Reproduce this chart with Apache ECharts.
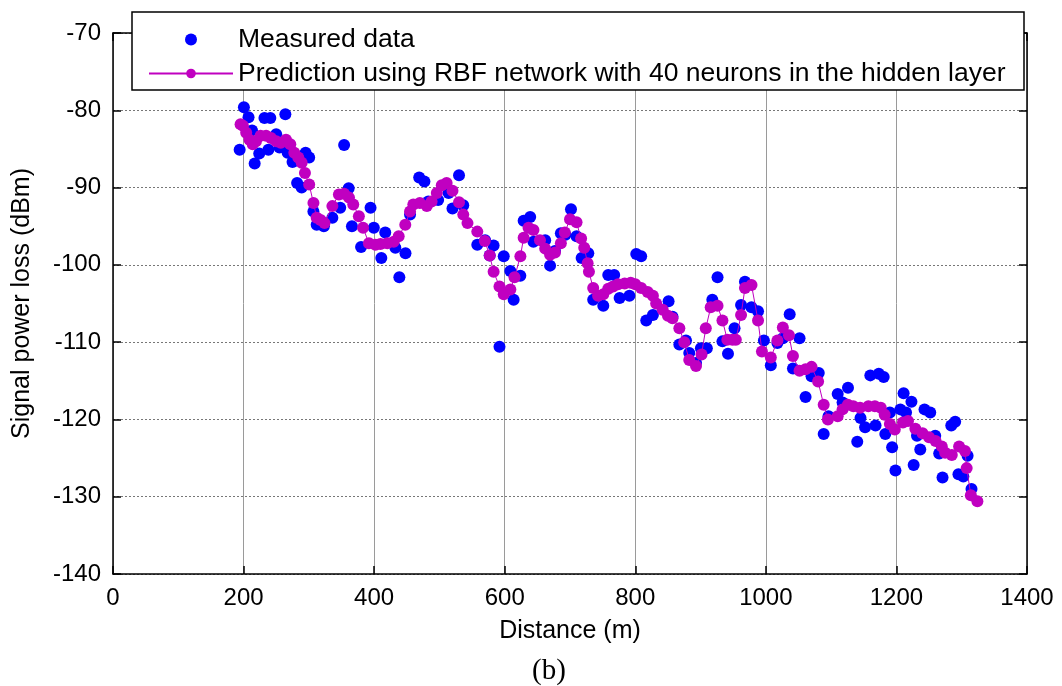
<!DOCTYPE html>
<html>
<head>
<meta charset="utf-8">
<script src="https://cdn.jsdelivr.net/npm/echarts@6/dist/echarts.min.js"></script>
<style>
  html, body { margin: 0; padding: 0; background: #fff; }
  #chart { width: 1062px; height: 686px; }
</style>
</head>
<body>
<div id="chart"></div>
<script>
// Measured received signal vs. distance (m, dBm)
const measuredX = [194, 200.5, 207.6, 213, 217, 224, 232, 238, 241, 250, 255, 264, 267.5, 275, 282, 289, 295, 300.5,
  307, 312, 323, 336, 348, 354, 361, 366, 380, 394.5, 399.5, 411, 417, 432.5, 438.6, 448, 455, 469, 477, 483, 498,
  514, 520, 530, 536.5, 558, 570, 577, 583, 592, 598.5, 608.6, 613.7, 623.9, 629, 639, 644, 662, 669.5, 677, 686,
  693, 701.5, 710, 717.8, 728, 735.5, 751, 758.6, 767.7, 776, 791, 801.5, 809, 816.8, 827, 851, 857, 867.5, 877.7,
  882.7, 893, 900.5, 909.6, 918, 926, 933.5, 942, 952, 962, 968, 978, 988, 997, 1007.6, 1017.7, 1026, 1036.5,
  1041.5, 1051.6, 1060.8, 1070, 1081, 1088.6, 1096, 1110, 1117.5, 1125.8, 1140, 1145, 1152, 1160, 1168, 1173,
  1180.5, 1183, 1190, 1193.4, 1198.5, 1206, 1211, 1214.7, 1223, 1226.4, 1231.5, 1236.5, 1243, 1251.8, 1259.4,
  1265.5, 1270.6, 1284, 1290, 1295, 1302.5, 1309, 1315];
const measuredY = [-85.1, -79.6, -80.9, -82.6, -86.9, -85.6, -81.0, -85.1, -81.0, -83.1, -84.8, -80.5, -85.5, -86.7,
  -89.4, -90.0, -85.5, -86.1, -93.1, -94.8, -95.0, -93.9, -92.6, -84.5, -90.1, -95.0, -97.7, -92.6, -95.2, -99.1,
  -95.8, -97.8, -101.6, -98.5, -93.5, -88.7, -89.2, -91.8, -91.6, -90.7, -92.7, -88.4, -92.3, -97.4, -96.8, -98.8,
  -97.5, -110.6, -98.9, -100.8, -104.5, -101.4, -94.3, -93.8, -97.0, -96.8, -100.1, -98.2, -95.9, -96.1, -92.8,
  -96.3, -99.1, -98.5, -104.5, -105.3, -101.3, -101.3, -104.3, -104.0, -98.6, -98.9, -107.2, -106.5, -104.7, -106.7,
  -110.3, -109.8, -111.4, -112.7, -110.8, -110.8, -104.5, -101.6, -109.9, -111.5, -108.2, -105.2, -102.2, -105.5,
  -106.0, -109.8, -113.0, -110.1, -109.5, -106.4, -113.4, -109.5, -117.1, -114.4, -114.0, -121.9, -119.6, -116.7,
  -117.8, -115.9, -122.9, -119.8, -121.0, -114.3, -120.8, -114.1, -114.5, -121.9, -119.1, -123.6, -126.6, -118.7,
  -116.6, -119.1, -117.7, -125.9, -122.1, -123.9, -118.7, -119.1, -122.1, -124.4, -127.5, -120.8, -120.3, -127.1,
  -127.4, -124.7, -129.0];

// RBF network prediction (40 hidden neurons)
const predX = [195.4, 199, 204, 209, 214, 219, 226, 234.5, 242, 250, 257, 265, 271.6, 277.7, 283.8, 289, 294, 300.5,
  307, 312, 318, 324, 336, 346, 354, 361.5, 368, 376.6, 383, 392, 402, 409.6, 420, 430, 437.6, 447.7, 455, 460, 470,
  480.7, 488, 496, 503.6, 511, 520, 530, 536.5, 543, 558, 569.5, 577, 583, 592, 598.5, 608.6, 615, 624, 629, 636.5,
  644, 654, 662, 669.5, 677, 686, 692, 700, 710, 717, 721.8, 727, 729, 735.5, 743, 751, 758.6, 766, 773.6, 783.8,
  793, 800, 809, 819, 827, 832, 842, 850, 857, 867.5, 875, 882.7, 893, 901.5, 908, 915.5, 926, 933.5, 941, 948.7,
  954, 962, 968, 978, 988, 994, 1007.6, 1017.7, 1026, 1035.4, 1041.5, 1051.6, 1060.8, 1070, 1080, 1088.6, 1095,
  1110, 1117.5, 1125.6, 1134, 1144.3, 1157, 1167, 1176, 1182, 1190, 1197.5, 1210, 1217.7, 1229, 1240, 1250, 1260,
  1269.5, 1274.6, 1284.8, 1296, 1305, 1307.6, 1314, 1324];
const predY = [-81.8, -82.0, -82.9, -83.8, -84.4, -84.0, -83.3, -83.3, -83.6, -84.0, -84.2, -83.8, -84.4, -85.5,
  -86.1, -86.8, -88.1, -89.6, -92.0, -93.9, -94.2, -94.6, -92.4, -90.9, -90.8, -91.3, -92.2, -93.7, -95.2, -97.2,
  -97.4, -97.3, -97.2, -97.0, -96.3, -94.8, -93.1, -92.2, -92.0, -92.4, -91.8, -90.7, -89.7, -89.4, -90.4, -91.9,
  -93.5, -94.6, -95.7, -96.9, -98.8, -100.9, -102.8, -103.8, -103.2, -101.6, -98.9, -96.5, -95.2, -95.5, -96.8,
  -97.9, -98.7, -98.4, -97.2, -95.8, -94.1, -94.5, -96.6, -97.8, -99.8, -100.9, -103.0, -104.0, -103.8, -103.1,
  -102.8, -102.5, -102.4, -102.3, -102.5, -103.0, -103.5, -104.0, -105.0, -105.8, -106.6, -106.9, -108.2, -110.0,
  -112.3, -113.1, -111.6, -108.2, -105.5, -105.3, -107.2, -109.7, -109.7, -109.7, -106.5, -103.0, -102.6, -107.2,
  -111.2, -112.0, -109.8, -108.1, -109.1, -111.8, -113.7, -113.5, -113.2, -115.1, -118.1, -120.0, -119.6, -118.7,
  -118.1, -118.3, -118.5, -118.3, -118.3, -118.5, -119.4, -120.6, -121.3, -120.4, -120.2, -121.2, -121.8, -122.3,
  -122.8, -123.5, -124.3, -124.6, -123.5, -124.1, -126.3, -129.8, -130.6];

const xTicks = { min: 0, max: 1400, step: 200 };
const yTicks = { min: -140, max: -70, step: 10 };

const measuredName = 'Measured data';
const predName = 'Prediction using RBF network with 40 neurons in the hidden layer';

const pairs = (xs, ys) => xs.map((x, i) => [x, ys[i]]);

const FONT = '"Liberation Sans", Arial, sans-serif';
const AXIS_BLACK = '#000';
const plainNumber = (v) => String(v);

const frameAxis = (extra) => Object.assign({
  axisLine: { show: true, onZero: false, lineStyle: { color: AXIS_BLACK, width: 1.5 } },
  axisTick: { show: true, inside: true, length: 8, lineStyle: { color: AXIS_BLACK, width: 1.5 } },
  axisLabel: { show: false },
  splitLine: { show: false }
}, extra);

const chart = echarts.init(document.getElementById('chart'), null, { renderer: 'canvas' });

chart.setOption({
  animation: false,
  backgroundColor: '#fff',
  grid: { left: 113, right: 35, top: 33, bottom: 112, containLabel: false, outerBoundsMode: 'none' },
  xAxis: [
    {
      type: 'value', min: xTicks.min, max: xTicks.max, interval: xTicks.step,
      name: 'Distance (m)', nameLocation: 'middle', nameGap: 45,
      nameTextStyle: { fontFamily: FONT, fontSize: 25, color: '#000' },
      axisLine: { show: true, onZero: false, lineStyle: { color: AXIS_BLACK, width: 1.5 } },
      axisTick: { show: true, inside: true, length: 8, lineStyle: { color: AXIS_BLACK, width: 1.5 } },
      axisLabel: { fontFamily: FONT, fontSize: 24, color: '#000', margin: 12, formatter: plainNumber },
      splitLine: { show: true, lineStyle: { color: '#9a9a9a', width: 1, type: 'solid' } }
    },
    frameAxis({ type: 'value', position: 'top', min: xTicks.min, max: xTicks.max, interval: xTicks.step })
  ],
  yAxis: [
    {
      type: 'value', min: yTicks.min, max: yTicks.max, interval: yTicks.step,
      name: 'Signal power loss (dBm)', nameLocation: 'middle', nameGap: 78,
      nameTextStyle: { fontFamily: FONT, fontSize: 25, color: '#000' },
      axisLine: { show: true, onZero: false, lineStyle: { color: AXIS_BLACK, width: 1.5 } },
      axisTick: { show: true, inside: true, length: 8, lineStyle: { color: AXIS_BLACK, width: 1.5 } },
      axisLabel: { fontFamily: FONT, fontSize: 24, color: '#000', margin: 12, formatter: plainNumber },
      splitLine: { show: true, lineStyle: { color: '#777', width: 1, type: [2, 2] } }
    },
    frameAxis({ type: 'value', position: 'right', min: yTicks.min, max: yTicks.max, interval: yTicks.step })
  ],
  legend: {
    orient: 'vertical', left: 148, top: 26, padding: 0, itemGap: 7,
    itemWidth: 84, itemHeight: 12, z: 20,
    textStyle: { fontFamily: FONT, fontSize: 26.5, color: '#000' },
    data: [
      { name: measuredName, icon: 'circle' },
      { name: predName }
    ]
  },
  graphic: [
    {
      type: 'rect', z: 15,
      shape: { x: 132, y: 12, width: 892, height: 78 },
      style: { fill: '#fff', stroke: '#000', lineWidth: 1.5 }
    },
    {
      type: 'text', z: 15, left: 532, top: 657,
      style: { text: '(b)', font: '29px "Liberation Serif", "Times New Roman", serif', fill: '#000' }
    }
  ],
  series: [
    {
      name: measuredName, type: 'scatter', z: 3,
      data: pairs(measuredX, measuredY),
      symbol: 'circle', symbolSize: 12,
      itemStyle: { color: '#0000ff', opacity: 1 }
    },
    {
      name: predName, type: 'line', z: 4,
      data: pairs(predX, predY),
      showAllSymbol: true, symbol: 'circle', symbolSize: 12,
      lineStyle: { color: '#c000c0', width: 1 },
      itemStyle: { color: '#c000c0', opacity: 1 }
    }
  ]
});
</script>
</body>
</html>
